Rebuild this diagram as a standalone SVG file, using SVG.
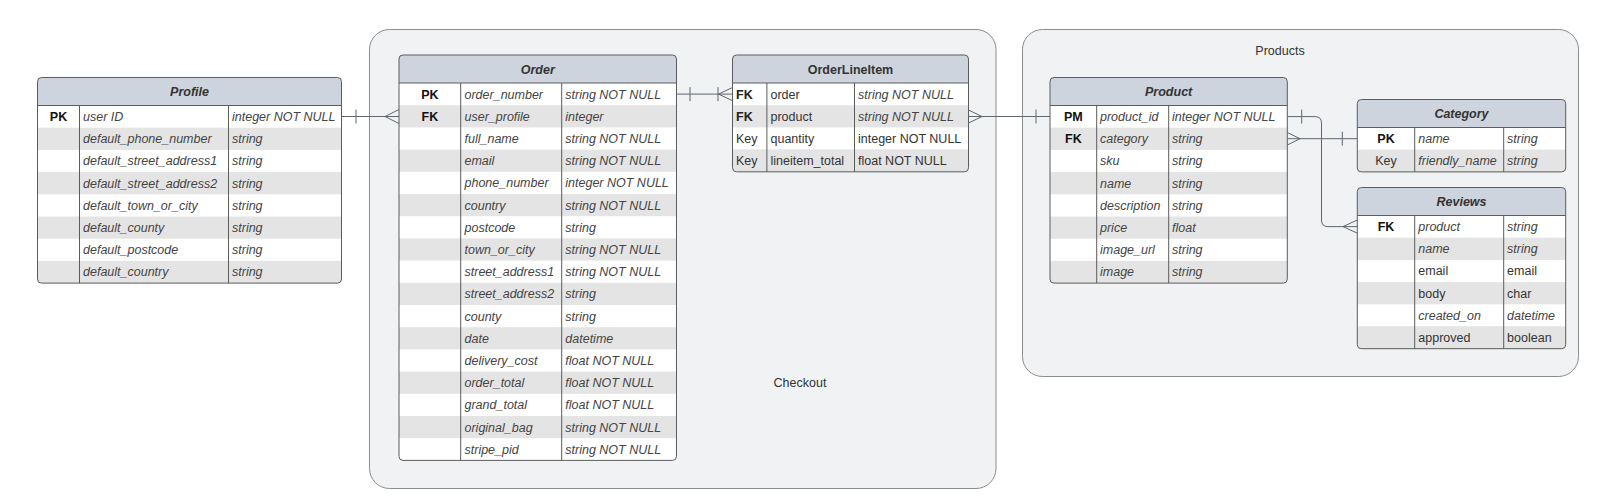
<svg xmlns="http://www.w3.org/2000/svg" width="1620" height="503" viewBox="0 0 1620 503">
<style>
text{font-family:"Liberation Sans",Arial,sans-serif;font-size:12.5px;fill:#333}
.h{font-weight:bold;font-style:italic;text-anchor:middle}
.hn{font-weight:bold;text-anchor:middle}
.k{font-weight:bold;text-anchor:middle;fill:#111}
.kl{font-weight:bold;fill:#222}
.kr{text-anchor:middle}
.i{font-style:italic;fill:#444}
.hd{fill:#ced4dd}
.g{fill:#e4e4e4}
.bd{fill:none;stroke:#5c5c5c;stroke-width:1}
.cl{stroke:#5c5c5c;stroke-width:1}
.ct{fill:#f1f2f4;stroke:#8c8c8c;stroke-width:1}
.c{fill:none;stroke:#5f6672;stroke-width:1}
</style>
<rect width="1620" height="503" fill="#ffffff"/>
<g id="checkout">
<rect class="ct" x="369.5" y="29.5" width="626.5" height="459" rx="20"/>
<text x="800" y="386.5" text-anchor="middle">Checkout</text>
</g>
<g id="products">
<rect class="ct" x="1022.5" y="29.5" width="556" height="347" rx="20"/>
<text x="1280" y="55" text-anchor="middle">Products</text>
</g>

<g id="profile" transform="translate(37.5,77.5)">
<rect x="0" y="0" width="304" height="205.6" rx="4" fill="#fff"/>
<path class="hd" d="M0,28 V4 Q0,0 4,0 H300 Q304,0 304,4 V28 Z"/>
<rect class="g" x="0" y="50.2" width="304" height="22.2"/>
<rect class="g" x="0" y="94.6" width="304" height="22.2"/>
<rect class="g" x="0" y="139" width="304" height="22.2"/>
<rect class="g" x="0" y="183.4" width="304" height="10"/>
<rect class="g" x="0" y="183.4" width="304" height="22.2" rx="4"/>
<line class="cl" x1="0" y1="28" x2="304" y2="28"/>
<line class="cl" x1="42" y1="28" x2="42" y2="205.6"/>
<line class="cl" x1="191" y1="28" x2="191" y2="205.6"/>
<rect class="bd" x="0" y="0" width="304" height="205.6" rx="4"/>
<text class="h" x="152" y="18.5">Profile</text>
<text class="k" x="21" y="43.5">PK</text>
<text class="i" x="45.5" y="43.5">user ID</text><text class="i" x="194.5" y="43.5">integer NOT NULL</text>
<text class="i" x="45.5" y="65.7">default_phone_number</text><text class="i" x="194.5" y="65.7">string</text>
<text class="i" x="45.5" y="87.9">default_street_address1</text><text class="i" x="194.5" y="87.9">string</text>
<text class="i" x="45.5" y="110.1">default_street_address2</text><text class="i" x="194.5" y="110.1">string</text>
<text class="i" x="45.5" y="132.3">default_town_or_city</text><text class="i" x="194.5" y="132.3">string</text>
<text class="i" x="45.5" y="154.5">default_county</text><text class="i" x="194.5" y="154.5">string</text>
<text class="i" x="45.5" y="176.7">default_postcode</text><text class="i" x="194.5" y="176.7">string</text>
<text class="i" x="45.5" y="198.9">default_country</text><text class="i" x="194.5" y="198.9">string</text>
</g>

<g id="order" transform="translate(399,55)">
<rect x="0" y="0" width="277.5" height="405.4" rx="4" fill="#fff"/>
<path class="hd" d="M0,28 V4 Q0,0 4,0 H273.5 Q277.5,0 277.5,4 V28 Z"/>
<rect class="g" x="0" y="50.2" width="277.5" height="22.2"/>
<rect class="g" x="0" y="94.6" width="277.5" height="22.2"/>
<rect class="g" x="0" y="139" width="277.5" height="22.2"/>
<rect class="g" x="0" y="183.4" width="277.5" height="22.2"/>
<rect class="g" x="0" y="227.8" width="277.5" height="22.2"/>
<rect class="g" x="0" y="272.2" width="277.5" height="22.2"/>
<rect class="g" x="0" y="316.6" width="277.5" height="22.2"/>
<rect class="g" x="0" y="361" width="277.5" height="22.2"/>
<line class="cl" x1="0" y1="28" x2="277.5" y2="28"/>
<line class="cl" x1="61.7" y1="28" x2="61.7" y2="405.4"/>
<line class="cl" x1="162.7" y1="28" x2="162.7" y2="405.4"/>
<rect class="bd" x="0" y="0" width="277.5" height="405.4" rx="4"/>
<text class="h" x="138.75" y="18.5">Order</text>
<text class="k" x="30.85" y="43.5">PK</text>
<text class="k" x="30.85" y="65.7">FK</text>
<text class="i" x="65.5" y="43.5">order_number</text><text class="i" x="166.3" y="43.5">string NOT NULL</text>
<text class="i" x="65.5" y="65.7">user_profile</text><text class="i" x="166.3" y="65.7">integer</text>
<text class="i" x="65.5" y="87.9">full_name</text><text class="i" x="166.3" y="87.9">string NOT NULL</text>
<text class="i" x="65.5" y="110.1">email</text><text class="i" x="166.3" y="110.1">string NOT NULL</text>
<text class="i" x="65.5" y="132.3">phone_number</text><text class="i" x="166.3" y="132.3">integer NOT NULL</text>
<text class="i" x="65.5" y="154.5">country</text><text class="i" x="166.3" y="154.5">string NOT NULL</text>
<text class="i" x="65.5" y="176.7">postcode</text><text class="i" x="166.3" y="176.7">string</text>
<text class="i" x="65.5" y="198.9">town_or_city</text><text class="i" x="166.3" y="198.9">string NOT NULL</text>
<text class="i" x="65.5" y="221.1">street_address1</text><text class="i" x="166.3" y="221.1">string NOT NULL</text>
<text class="i" x="65.5" y="243.3">street_address2</text><text class="i" x="166.3" y="243.3">string</text>
<text class="i" x="65.5" y="265.5">county</text><text class="i" x="166.3" y="265.5">string</text>
<text class="i" x="65.5" y="287.7">date</text><text class="i" x="166.3" y="287.7">datetime</text>
<text class="i" x="65.5" y="309.9">delivery_cost</text><text class="i" x="166.3" y="309.9">float NOT NULL</text>
<text class="i" x="65.5" y="332.1">order_total</text><text class="i" x="166.3" y="332.1">float NOT NULL</text>
<text class="i" x="65.5" y="354.3">grand_total</text><text class="i" x="166.3" y="354.3">float NOT NULL</text>
<text class="i" x="65.5" y="376.5">original_bag</text><text class="i" x="166.3" y="376.5">string NOT NULL</text>
<text class="i" x="65.5" y="398.7">stripe_pid</text><text class="i" x="166.3" y="398.7">string NOT NULL</text>
</g>

<g id="orderlineitem" transform="translate(732.5,55)">
<rect x="0" y="0" width="236" height="116.8" rx="4" fill="#fff"/>
<path class="hd" d="M0,28 V4 Q0,0 4,0 H232 Q236,0 236,4 V28 Z"/>
<rect class="g" x="0" y="50.2" width="236" height="22.2"/>
<rect class="g" x="0" y="94.6" width="236" height="10"/>
<rect class="g" x="0" y="94.6" width="236" height="22.2" rx="4"/>
<line class="cl" x1="0" y1="28" x2="236" y2="28"/>
<line class="cl" x1="34.4" y1="28" x2="34.4" y2="116.8"/>
<line class="cl" x1="122" y1="28" x2="122" y2="116.8"/>
<rect class="bd" x="0" y="0" width="236" height="116.8" rx="4"/>
<text class="hn" x="118" y="18.5">OrderLineItem</text>
<text class="kl" x="3.5" y="43.5">FK</text><text x="38" y="43.5">order</text><text class="i" x="125.5" y="43.5">string NOT NULL</text>
<text class="kl" x="3.5" y="65.7">FK</text><text x="38" y="65.7">product</text><text class="i" x="125.5" y="65.7">string NOT NULL</text>
<text x="3.5" y="87.9">Key</text><text x="38" y="87.9">quantity</text><text x="125.5" y="87.9">integer NOT NULL</text>
<text x="3.5" y="110.1">Key</text><text x="38" y="110.1">lineitem_total</text><text x="125.5" y="110.1">float NOT NULL</text>
</g>

<g id="product" transform="translate(1050,77.5)">
<rect x="0" y="0" width="237.3" height="205.6" rx="4" fill="#fff"/>
<path class="hd" d="M0,28 V4 Q0,0 4,0 H233.3 Q237.3,0 237.3,4 V28 Z"/>
<rect class="g" x="0" y="50.2" width="237.3" height="22.2"/>
<rect class="g" x="0" y="94.6" width="237.3" height="22.2"/>
<rect class="g" x="0" y="139" width="237.3" height="22.2"/>
<rect class="g" x="0" y="183.4" width="237.3" height="10"/>
<rect class="g" x="0" y="183.4" width="237.3" height="22.2" rx="4"/>
<line class="cl" x1="0" y1="28" x2="237.3" y2="28"/>
<line class="cl" x1="46.7" y1="28" x2="46.7" y2="205.6"/>
<line class="cl" x1="118.7" y1="28" x2="118.7" y2="205.6"/>
<rect class="bd" x="0" y="0" width="237.3" height="205.6" rx="4"/>
<text class="h" x="118.65" y="18.5">Product</text>
<text class="k" x="23.35" y="43.5">PM</text>
<text class="k" x="23.35" y="65.7">FK</text>
<text class="i" x="50" y="43.5">product_id</text><text class="i" x="122" y="43.5">integer NOT NULL</text>
<text class="i" x="50" y="65.7">category</text><text class="i" x="122" y="65.7">string</text>
<text class="i" x="50" y="87.9">sku</text><text class="i" x="122" y="87.9">string</text>
<text class="i" x="50" y="110.1">name</text><text class="i" x="122" y="110.1">string</text>
<text class="i" x="50" y="132.3">description</text><text class="i" x="122" y="132.3">string</text>
<text class="i" x="50" y="154.5">price</text><text class="i" x="122" y="154.5">float</text>
<text class="i" x="50" y="176.7">image_url</text><text class="i" x="122" y="176.7">string</text>
<text class="i" x="50" y="198.9">image</text><text class="i" x="122" y="198.9">string</text>
</g>

<g id="category" transform="translate(1357.3,99.5)">
<rect x="0" y="0" width="208.4" height="72.4" rx="4" fill="#fff"/>
<path class="hd" d="M0,28 V4 Q0,0 4,0 H204.4 Q208.4,0 208.4,4 V28 Z"/>
<rect class="g" x="0" y="50.2" width="208.4" height="10"/>
<rect class="g" x="0" y="50.2" width="208.4" height="22.2" rx="4"/>
<line class="cl" x1="0" y1="28" x2="208.4" y2="28"/>
<line class="cl" x1="57.4" y1="28" x2="57.4" y2="72.4"/>
<line class="cl" x1="146.4" y1="28" x2="146.4" y2="72.4"/>
<rect class="bd" x="0" y="0" width="208.4" height="72.4" rx="4"/>
<text class="h" x="104.2" y="18.5">Category</text>
<text class="k" x="28.7" y="43.5">PK</text>
<text class="kr" x="28.7" y="65.7">Key</text>
<text class="i" x="61" y="43.5">name</text><text class="i" x="149.8" y="43.5">string</text>
<text class="i" x="61" y="65.7">friendly_name</text><text class="i" x="149.8" y="65.7">string</text>
</g>

<g id="reviews" transform="translate(1357.3,187.5)">
<rect x="0" y="0" width="208.4" height="161.2" rx="4" fill="#fff"/>
<path class="hd" d="M0,28 V4 Q0,0 4,0 H204.4 Q208.4,0 208.4,4 V28 Z"/>
<rect class="g" x="0" y="50.2" width="208.4" height="22.2"/>
<rect class="g" x="0" y="94.6" width="208.4" height="22.2"/>
<rect class="g" x="0" y="139" width="208.4" height="10"/>
<rect class="g" x="0" y="139" width="208.4" height="22.2" rx="4"/>
<line class="cl" x1="0" y1="28" x2="208.4" y2="28"/>
<line class="cl" x1="57.4" y1="28" x2="57.4" y2="161.2"/>
<line class="cl" x1="146.4" y1="28" x2="146.4" y2="161.2"/>
<rect class="bd" x="0" y="0" width="208.4" height="161.2" rx="4"/>
<text class="h" x="104.2" y="18.5">Reviews</text>
<text class="k" x="28.7" y="43.5">FK</text>
<text class="i" x="61" y="43.5">product</text><text class="i" x="149.8" y="43.5">string</text>
<text class="i" x="61" y="65.7">name</text><text class="i" x="149.8" y="65.7">string</text>
<text x="61" y="87.9">email</text><text x="149.8" y="87.9">email</text>
<text x="61" y="110.1">body</text><text x="149.8" y="110.1">char</text>
<text class="i" x="61" y="132.3">created_on</text><text class="i" x="149.8" y="132.3">datetime</text>
<text x="61" y="154.5">approved</text><text x="149.8" y="154.5">boolean</text>
</g>

<g id="connectors">
<path class="c" d="M341.5,116.5 H399 M356,109.5 V123.5 M399,109.5 L385,116.5 L399,123.5"/>
<path class="c" d="M676.5,94.1 H732.5 M690,87.1 V101.1 M718,87.1 V101.1 M732.5,87.5 L718.5,94.1 L732.5,100.7"/>
<path class="c" d="M968.5,116.5 H1050 M968.5,110 L982,116.5 L968.5,123 M1036,109.5 V123.5"/>
<path class="c" d="M1287.3,138.7 H1357.3 M1287.3,132.5 L1300,138.7 L1287.3,145 M1342.3,131.7 V145.7"/>
<path class="c" d="M1287.3,116.6 H1315 Q1321.5,116.6 1321.5,123 V220 Q1321.5,226.6 1328,226.6 H1357.3 M1301.7,109.6 V123.6 M1357.3,220 L1343,226.6 L1357.3,233.2"/>
</g>
</svg>
